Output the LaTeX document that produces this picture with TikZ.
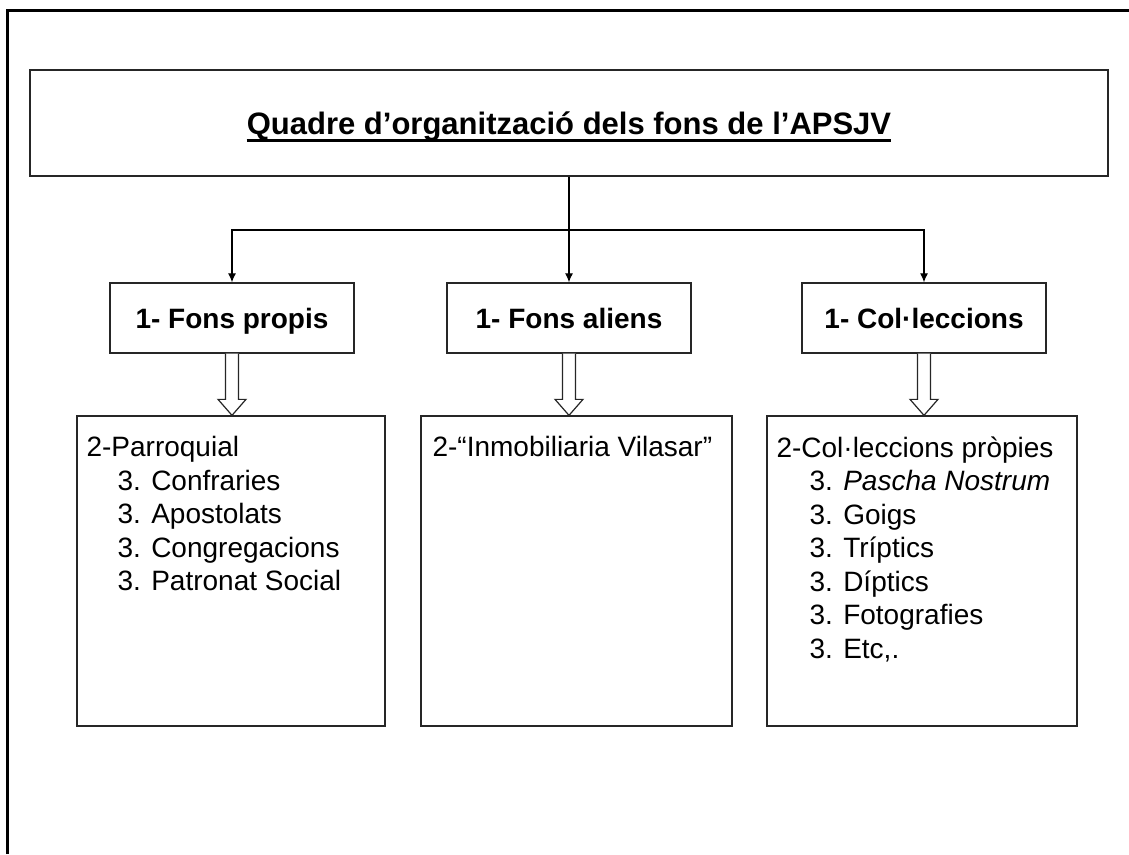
\documentclass[tikz,border=0pt]{standalone}
\usepackage{fontspec}
\setmainfont{Liberation Sans}
\usetikzlibrary{arrows.meta,calc,positioning}
\tikzset{>={Latex[length=9pt,width=8pt]}}
\tikzset{box/.style={draw=black!85, line width=1.3pt, rectangle, inner sep=0pt},
  fons/.style={box, minimum width=244pt, minimum height=70pt,
    text height=21pt, text depth=1pt,
    font=\fontsize{28}{33.5}\selectfont\bfseries},
  serie/.style={box, minimum height=310pt},
  llista/.style={anchor=north west, align=left, inner sep=0pt,
    font=\fontsize{28}{33.5}\selectfont},
  buit/.style={draw=black!85, line width=1.2pt, fill=white}}
% fletxa buida entre dos nivells
\newcommand{\fletxa}[2]{%
  \draw[buit] ($(#1.south)+(-6.5,0)$) -- ($(#1.south |- #2.north)+(-6.5,-16)$)
    -- ++(-7.5,0) -- (#1.south |- #2.north) -- ($(#1.south |- #2.north)+(14,-16)$)
    -- ++(-7.5,0) -- ($(#1.south)+(6.5,0)$);}

\begin{document}
\begin{tikzpicture}[x=1pt,y=-1pt]
  \useasboundingbox (0,0) rectangle (1129,854);
  \draw[line width=3.5pt] (7.5,854) -- (7.5,10.5) -- (1129,10.5);

  \node[box, minimum width=1078pt, minimum height=106pt] (quadre) at (569,123) {};
  \node[anchor=base, inner sep=0pt, font=\fontsize{31}{36}\selectfont\bfseries]
    (titol) at (569,134) {Quadre d’organització dels fons de l’APSJV};
  \draw[line width=3pt] ($(titol.base west)+(0,6)$) -- ($(titol.base east)+(0,6)$);

  \node[fons] (propis) at (232,318) {1- Fons propis};
  \node[fons] (aliens) at (569,318) {1- Fons aliens};
  \node[fons] (colleccions) at (924,318) {1- Col·leccions};

  \node[serie, minimum width=308pt] (parroquial) at (231,571) {};
  \node[serie, minimum width=311pt] (inmobiliaria) at (576.5,571) {};
  \node[serie, minimum width=310pt] (propies) at (922,571) {};

  \coordinate (branca) at (569,230);
  \draw[->, line width=1.2pt] (quadre.south) -- (quadre.south |- aliens.north);
  \draw[->, line width=1.2pt] (branca) -| (propis.north);
  \draw[->, line width=1.2pt] (branca) -| (colleccions.north);

  \fletxa{propis}{parroquial}
  \fletxa{aliens}{inmobiliaria}
  \fletxa{colleccions}{propies}

  \node[llista] (llista1) at ($(parroquial.north west)+(10,21)$)
    {2-Parroquial\\\hspace*{31pt}3. Confraries\\\hspace*{31pt}3. Apostolats\\
     \hspace*{31pt}3. Congregacions\\\hspace*{31pt}3. Patronat Social};
  \node[llista] (llista2) at ($(inmobiliaria.north west)+(12,21)$)
    {2-“Inmobiliaria Vilasar”};
  \node[llista] (llista3) at ($(propies.north west)+(10,21)$)
    {2-Col·leccions pròpies\\\hspace*{33pt}3. \textit{Pascha Nostrum}\\
     \hspace*{33pt}3. Goigs\\\hspace*{33pt}3. Tríptics\\\hspace*{33pt}3. Díptics\\
     \hspace*{33pt}3. Fotografies\\\hspace*{33pt}3. Etc,.};
\end{tikzpicture}
\end{document}
